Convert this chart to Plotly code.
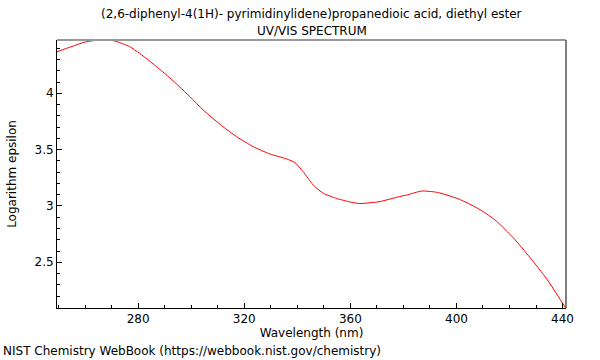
import plotly.graph_objects as go

wavelength = [249.4, 255.0, 260.0, 265.5, 271.0, 276.8, 280.5, 284.4, 288.0, 291.9, 295.4, 299.5,
              304.5, 312.0, 317.1, 323.4, 329.7, 336.0, 339.1, 342.2, 346.0, 349.8, 354.8,
              359.9, 363.6, 367.4, 371.2, 378.5, 381.3, 386.9, 392.6, 400.1, 404.5, 408.9,
              412.0, 415.2, 421.5, 427.8, 434.1, 441.0]
log_eps = [4.369, 4.415, 4.455, 4.473, 4.465, 4.414, 4.355, 4.285, 4.215, 4.138, 4.062, 3.970,
           3.852, 3.703, 3.615, 3.526, 3.461, 3.417, 3.385, 3.304, 3.186, 3.112, 3.067,
           3.035, 3.021, 3.028, 3.039, 3.083, 3.097, 3.132, 3.121, 3.068, 3.022, 2.967,
           2.920, 2.862, 2.715, 2.540, 2.350, 2.10]

title_line1 = "(2,6-diphenyl-4(1H)- pyrimidinylidene)propanedioic acid, diethyl ester"
title_line2 = "UV/VIS SPECTRUM"
x_title = "Wavelength (nm)"
y_title = "Logarithm epsilon"
footer = "NIST Chemistry WebBook (https://webbook.nist.gov/chemistry)"

FONT = "DejaVu Sans"

fig = go.Figure()
fig.add_trace(go.Scatter(x=wavelength, y=log_eps, mode="lines",
                         line=dict(color="#ff0000", width=1, shape="spline", smoothing=0.6),
                         hoverinfo="skip", showlegend=False))

fig.update_layout(
    width=600, height=360,
    margin=dict(l=57, r=34, t=40, b=52, autoexpand=False),
    paper_bgcolor="white", plot_bgcolor="white",
    font=dict(family=FONT, size=12, color="#000"),
    showlegend=False,
    xaxis=dict(range=[249.4, 441.3], tick0=280, dtick=40, ticks="inside", ticklen=5,
               tickcolor="#000", showgrid=False, zeroline=False, automargin=False,
               showline=True, linecolor="#000", linewidth=1,
               minor=dict(ticks="inside", ticklen=3, dtick=10, tick0=280, tickcolor="#000", showgrid=False),
               title=dict(text=x_title, standoff=2, font=dict(size=12)),
               tickfont=dict(size=12)),
    yaxis=dict(range=[2.094, 4.473], tick0=2.5, dtick=0.5, ticks="inside", ticklen=5,
               tickcolor="#000", showgrid=False, zeroline=False, automargin=False,
               showline=True, linecolor="#000", linewidth=1,
               minor=dict(ticks="inside", ticklen=3, dtick=0.1, tick0=2.5, tickcolor="#000", showgrid=False),
               title=dict(text=y_title, standoff=15, font=dict(size=12)),
               tickfont=dict(size=12)),
    shapes=[
        dict(type="line", xref="paper", yref="paper", x0=0, x1=1, y0=1, y1=1,
             line=dict(color="#999999", width=2)),
        dict(type="line", xref="paper", yref="paper", x0=1, x1=1, y0=0, y1=1,
             line=dict(color="#555555", width=1.5)),
    ],
    annotations=[
        dict(text=title_line1, xref="paper", yref="paper", x=0.5, y=1, yshift=17,
             xanchor="center", yanchor="bottom", showarrow=False, font=dict(size=12)),
        dict(text=title_line2, xref="paper", yref="paper", x=0.5, y=1, yshift=0,
             xanchor="center", yanchor="bottom", showarrow=False, font=dict(size=12)),
        dict(text=footer, xref="paper", yref="paper", x=0, y=0, xshift=-56, yshift=-52,
             xanchor="left", yanchor="bottom", showarrow=False, font=dict(size=12)),
    ],
)

fig.write_html("out.html", config={"displayModeBar": False},
               post_script="document.body.style.margin='0';")
